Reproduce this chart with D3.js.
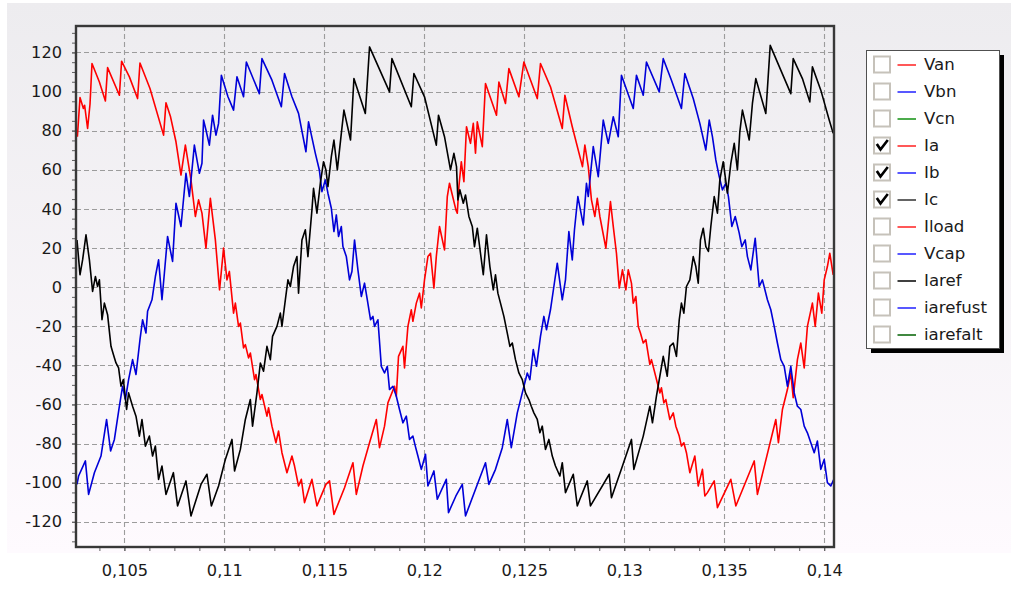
<!DOCTYPE html>
<html>
<head>
<meta charset="utf-8">
<script src="https://cdn.jsdelivr.net/npm/d3@7"></script>
<style>
  body { margin: 0; background: #fff; }
  svg { display: block; }
  text { font-family: "DejaVu Sans", Verdana, sans-serif; }
</style>
</head>
<body>
<svg id="chart" width="1011" height="603"></svg>
<script>
// phase currents, [time in ms, current in A]
var ia = [[102.65,76.9],[102.78,96.9],[102.95,91.3],[103.01,93.0],[103.16,81.1],[103.28,93.5],[103.38,114.3],[103.75,104.9],[104.05,95.2],[104.16,112.2],[104.75,98.1],[104.86,115.5],[105.25,107.5],[105.66,96.4],[105.78,114.6],[106.28,101.5],[106.96,77.7],[107.08,94.2],[107.30,87.4],[107.58,74.3],[107.83,57.3],[108.05,72.6],[108.33,54.8],[108.55,36.1],[108.71,44.6],[108.88,37.8],[109.08,19.9],[109.30,45.4],[109.55,24.1],[109.76,-1.4],[109.96,19.9],[110.13,3.7],[110.25,8.0],[110.46,-13.3],[110.55,-8.2],[110.71,-20.1],[110.80,-18.4],[110.96,-31.1],[111.05,-29.4],[111.21,-36.2],[111.30,-33.7],[111.51,-47.3],[111.58,-44.7],[111.80,-57.5],[111.88,-54.9],[112.13,-66.0],[112.21,-61.7],[112.38,-71.1],[112.58,-79.6],[112.71,-73.6],[112.88,-84.7],[113.13,-94.9],[113.38,-86.4],[113.51,-91.5],[113.71,-101.7],[113.85,-98.3],[114.01,-110.2],[114.38,-98.3],[114.63,-111.9],[115.08,-100.9],[115.26,-99.1],[115.48,-116.2],[116.01,-102.6],[116.43,-89.8],[116.60,-106.0],[116.93,-91.5],[117.26,-79.6],[117.60,-67.7],[117.76,-82.1],[118.01,-71.1],[118.18,-59.2],[118.51,-50.7],[118.60,-55.8],[118.71,-35.4],[118.93,-30.3],[119.01,-41.3],[119.18,-20.1],[119.35,-11.6],[119.43,-17.5],[119.60,-8.2],[119.76,-3.1],[119.85,-10.7],[120.01,3.7],[120.18,15.6],[120.31,17.3],[120.48,-0.5],[120.60,15.6],[120.76,31.0],[121.01,19.0],[121.15,46.3],[121.26,53.1],[121.38,48.0],[121.58,39.5],[121.65,37.8],[121.73,51.4],[121.85,64.1],[121.98,53.9],[122.11,82.0],[122.31,73.5],[122.45,83.7],[122.56,68.4],[122.65,84.5],[122.90,71.8],[123.06,104.1],[123.61,87.9],[123.73,104.9],[124.06,93.9],[124.23,111.7],[124.73,97.3],[124.98,115.1],[125.65,96.4],[125.81,114.3],[126.31,102.4],[126.90,81.1],[127.03,98.1],[127.40,82.0],[127.91,61.6],[128.03,72.6],[128.20,61.6],[128.36,44.6],[128.53,36.1],[128.65,45.4],[128.78,36.1],[129.08,19.9],[129.31,43.7],[129.45,31.0],[129.61,17.3],[129.75,-0.5],[129.91,8.8],[130.08,-1.4],[130.20,8.8],[130.36,2.0],[130.45,-8.2],[130.58,-4.8],[130.70,-20.1],[130.81,-23.5],[130.95,-28.6],[131.08,-26.9],[131.28,-39.6],[131.36,-37.1],[131.53,-43.9],[131.78,-54.1],[131.86,-51.5],[131.98,-59.2],[132.08,-57.5],[132.28,-67.7],[132.45,-64.3],[132.58,-71.1],[132.75,-76.2],[132.86,-81.3],[132.98,-79.6],[133.11,-84.7],[133.28,-94.9],[133.53,-86.4],[133.70,-101.7],[133.91,-93.2],[134.03,-106.8],[134.16,-105.1],[134.50,-99.1],[134.66,-112.8],[135.33,-98.3],[135.58,-111.9],[136.50,-88.9],[136.66,-106.0],[137.58,-67.7],[137.71,-79.6],[137.91,-62.6],[138.16,-52.4],[138.33,-43.9],[138.45,-56.6],[138.66,-37.1],[138.83,-28.6],[139.00,-41.3],[139.16,-20.1],[139.41,-8.2],[139.55,-20.1],[139.71,-3.1],[139.88,-13.3],[140.00,3.7],[140.16,10.5],[140.28,17.3],[140.45,6.3]];

var ib = [[102.63,-100.9],[102.71,-96.6],[103.05,-88.9],[103.21,-106.0],[103.50,-94.9],[103.83,-86.4],[104.11,-67.7],[104.31,-83.8],[104.50,-77.9],[104.75,-60.9],[104.91,-50.7],[105.05,-57.5],[105.21,-47.3],[105.41,-37.1],[105.58,-44.7],[105.78,-26.9],[105.91,-16.7],[106.08,-23.5],[106.16,-12.4],[106.38,-6.5],[106.55,5.4],[106.71,13.9],[106.88,-6.5],[107.00,7.1],[107.16,25.9],[107.41,13.1],[107.58,42.9],[107.83,31.0],[108.08,58.2],[108.25,46.3],[108.50,72.6],[108.75,58.2],[108.88,63.3],[108.96,85.4],[109.08,80.3],[109.25,72.6],[109.41,87.9],[109.58,77.7],[109.71,83.7],[109.85,108.3],[110.18,97.3],[110.46,90.5],[110.63,107.5],[110.96,97.3],[111.10,115.1],[111.75,98.9],[111.88,116.8],[112.38,105.8],[112.85,92.2],[113.01,109.2],[113.38,97.3],[113.71,88.8],[114.08,69.2],[114.21,84.5],[114.55,68.4],[114.75,59.9],[114.88,48.8],[115.05,54.8],[115.18,48.0],[115.35,40.3],[115.48,28.4],[115.60,36.9],[115.71,25.9],[115.85,31.0],[115.93,20.7],[116.10,15.6],[116.26,3.7],[116.38,8.0],[116.51,24.1],[116.68,8.8],[116.85,-4.8],[117.01,2.0],[117.15,-6.5],[117.31,-16.7],[117.43,-15.0],[117.51,-20.1],[117.68,-16.7],[117.85,-40.5],[118.01,-43.9],[118.15,-40.5],[118.26,-52.4],[118.43,-50.7],[118.60,-55.8],[118.76,-62.6],[118.93,-69.4],[119.10,-66.0],[119.26,-77.9],[119.43,-76.2],[119.55,-81.3],[119.68,-86.4],[119.85,-93.2],[120.06,-85.5],[120.18,-101.7],[120.48,-94.0],[120.65,-108.5],[121.10,-98.3],[121.21,-115.3],[121.58,-106.8],[121.90,-100.9],[122.06,-117.0],[123.06,-89.8],[123.23,-100.9],[123.56,-93.2],[123.90,-82.1],[124.15,-67.7],[124.35,-82.1],[124.65,-64.3],[124.90,-54.1],[125.15,-43.9],[125.28,-47.3],[125.45,-32.0],[125.61,-40.5],[125.81,-25.2],[125.98,-15.0],[126.11,-21.8],[126.31,-11.6],[126.48,0.3],[126.65,12.2],[126.90,-6.5],[127.06,3.7],[127.23,28.4],[127.40,13.9],[127.51,29.3],[127.68,46.3],[127.95,31.8],[128.11,53.1],[128.20,46.3],[128.45,71.8],[128.70,56.5],[128.95,85.4],[129.20,73.5],[129.45,87.1],[129.70,76.9],[129.86,108.3],[130.45,91.3],[130.61,108.3],[130.95,98.1],[131.11,115.1],[131.75,99.8],[131.95,116.8],[132.36,105.8],[132.86,91.3],[133.03,109.2],[133.45,96.4],[133.78,83.7],[134.08,70.1],[134.25,85.4],[134.41,76.9],[134.58,65.0],[134.75,56.5],[134.91,49.7],[135.08,53.1],[135.21,46.3],[135.38,31.0],[135.55,36.1],[135.75,27.6],[135.88,20.7],[136.05,24.1],[136.16,15.6],[136.33,8.8],[136.55,25.0],[136.75,0.3],[136.91,3.7],[137.16,-6.5],[137.33,-11.6],[137.50,-20.1],[137.66,-28.6],[137.83,-37.1],[138.00,-40.5],[138.16,-50.7],[138.33,-40.5],[138.50,-54.1],[138.66,-60.9],[138.83,-62.6],[139.00,-71.1],[139.16,-74.5],[139.33,-79.6],[139.50,-84.7],[139.66,-78.7],[139.83,-93.2],[140.00,-88.1],[140.16,-100.0],[140.33,-101.7],[140.48,-98.3]];

var ic = [[102.63,24.1],[102.78,6.3],[102.91,13.9],[103.08,26.7],[103.25,13.9],[103.41,-2.2],[103.55,5.4],[103.66,0.3],[103.75,3.7],[103.88,-16.7],[104.00,-8.2],[104.16,-14.1],[104.33,-30.3],[104.45,-34.5],[104.58,-38.8],[104.71,-41.3],[104.83,-50.7],[104.95,-47.3],[105.11,-62.6],[105.21,-54.1],[105.41,-60.9],[105.58,-66.0],[105.75,-76.2],[105.88,-67.7],[106.05,-81.3],[106.25,-76.2],[106.41,-86.4],[106.55,-81.3],[106.71,-98.3],[106.88,-91.5],[107.08,-106.0],[107.45,-94.9],[107.66,-111.9],[108.08,-99.1],[108.33,-117.0],[108.83,-100.9],[109.13,-95.7],[109.35,-111.9],[109.71,-101.7],[110.05,-88.1],[110.38,-77.9],[110.51,-94.0],[110.80,-83.0],[111.05,-67.7],[111.30,-57.5],[111.41,-71.1],[111.63,-54.1],[111.80,-38.8],[111.96,-43.0],[112.13,-30.3],[112.30,-37.1],[112.41,-25.2],[112.63,-20.1],[112.80,-13.3],[112.88,-20.1],[113.05,-6.5],[113.18,3.7],[113.30,0.3],[113.46,10.5],[113.63,15.6],[113.71,-3.1],[113.88,24.1],[114.05,29.3],[114.18,15.6],[114.38,39.5],[114.46,50.5],[114.63,37.8],[114.80,53.1],[114.96,64.1],[115.08,59.9],[115.18,51.4],[115.35,66.7],[115.48,75.2],[115.65,59.9],[115.85,78.6],[115.98,90.5],[116.31,75.2],[116.48,106.6],[117.05,88.8],[117.26,122.8],[118.26,99.8],[118.38,116.8],[119.35,92.2],[119.48,109.2],[120.01,97.3],[120.60,72.6],[120.71,87.9],[121.01,76.9],[121.31,59.9],[121.48,68.4],[121.61,61.6],[121.68,44.6],[121.78,49.7],[121.95,42.9],[122.06,47.1],[122.23,36.1],[122.40,31.0],[122.51,20.7],[122.65,30.1],[122.81,17.3],[122.95,6.3],[123.11,26.7],[123.28,10.5],[123.45,-1.4],[123.56,6.3],[123.68,-3.1],[123.81,-8.2],[123.98,-15.0],[124.15,-23.5],[124.28,-30.3],[124.40,-28.6],[124.56,-37.1],[124.73,-43.9],[124.90,-47.3],[125.06,-54.1],[125.23,-57.5],[125.35,-60.9],[125.48,-64.3],[125.65,-67.7],[125.78,-74.5],[125.90,-71.1],[126.06,-83.0],[126.23,-77.9],[126.40,-86.4],[126.56,-91.5],[126.78,-96.6],[126.90,-89.8],[127.06,-105.1],[127.45,-95.7],[127.65,-111.9],[127.78,-108.5],[128.15,-99.1],[128.31,-111.9],[129.25,-95.7],[129.36,-107.7],[129.91,-91.5],[130.36,-77.9],[130.48,-93.2],[130.95,-76.2],[131.28,-60.9],[131.41,-69.4],[131.61,-55.8],[131.95,-35.4],[132.15,-45.6],[132.28,-30.3],[132.45,-28.6],[132.61,-35.4],[132.75,-16.7],[132.86,-8.2],[132.98,-13.3],[133.11,0.3],[133.28,3.7],[133.45,15.6],[133.58,10.5],[133.70,2.0],[133.81,24.1],[133.95,30.1],[134.08,20.7],[134.21,18.2],[134.33,31.0],[134.50,46.3],[134.66,37.8],[134.78,54.8],[134.95,64.1],[135.16,48.0],[135.33,63.3],[135.50,73.5],[135.66,59.9],[135.78,79.4],[135.91,90.5],[136.25,75.2],[136.41,93.9],[136.58,106.6],[137.08,88.8],[137.30,123.6],[138.33,98.9],[138.45,116.8],[138.91,106.6],[139.28,94.7],[139.41,112.6],[139.83,100.7],[140.25,85.4],[140.45,78.6]];

// legend entries (only Ia, Ib, Ic are ticked and plotted)
var legendNames   = ["Van", "Vbn", "Vcn", "Ia", "Ib", "Ic", "Iload", "Vcap", "Iaref", "iarefust", "iarefalt"];
var legendColors  = ["#ff2020", "#2020ff", "#109010", "#ff2020", "#2020ff", "#303030", "#ff2020", "#2020ff", "#000000", "#2020ff", "#006000"];
var legendChecked = [false, false, false, true, true, true, false, false, false, false, false];

// axes
var xTicks = [0.105, 0.11, 0.115, 0.12, 0.125, 0.13, 0.135, 0.14];
var yTicks = [-120, -100, -80, -60, -40, -20, 0, 20, 40, 60, 80, 100, 120];
var xDomain = [0.10258, 0.14049];
var yDomain = [-132.9, 133.5];

var svg = d3.select("#chart");
var pLeft = 76, pRight = 834, pTop = 26, pBottom = 547;

var x = d3.scaleLinear().domain(xDomain).range([pLeft, pRight]);
var y = d3.scaleLinear().domain(yDomain).range([pBottom, pTop]);

// minor ticks: x every 0.00125 s, y every 5 A
var xMinor = d3.range(0.10375, 0.1405, 0.00125);
var yMinor = d3.range(-130, 131, 5);

// backgrounds
var defs = svg.append("defs");
var grad = defs.append("linearGradient").attr("id", "bg")
    .attr("x1", 0).attr("y1", 0).attr("x2", 0).attr("y2", 1);
grad.append("stop").attr("offset", "0%").attr("stop-color", "#edecef");
grad.append("stop").attr("offset", "100%").attr("stop-color", "#fefafe");

defs.append("clipPath").attr("id", "plotclip")
  .append("rect").attr("x", pLeft).attr("y", pTop)
  .attr("width", pRight - pLeft).attr("height", pBottom - pTop);

svg.append("rect").attr("x", 7).attr("y", 3)
    .attr("width", 1004).attr("height", 550)
    .attr("fill", "url(#bg)");

// grid
var grid = svg.append("g").attr("stroke", "#9c9c9c")
    .attr("stroke-width", 1.1).attr("stroke-dasharray", "5,3");
grid.selectAll(".gx").data(xTicks).enter().append("line")
    .attr("x1", function(d) { return Math.round(x(d)) + 0.5; })
    .attr("x2", function(d) { return Math.round(x(d)) + 0.5; })
    .attr("y1", pTop).attr("y2", pBottom);
grid.selectAll(".gy").data(yTicks).enter().append("line")
    .attr("y1", function(d) { return Math.round(y(d)) + 0.5; })
    .attr("y2", function(d) { return Math.round(y(d)) + 0.5; })
    .attr("x1", pLeft).attr("x2", pRight);

// series
var line = d3.line()
    .x(function(d) { return x(d[0] / 1000); })
    .y(function(d) { return y(d[1]); });

var plotted = [
  { data: ia, color: "#ff0000" },
  { data: ib, color: "#0000d8" },
  { data: ic, color: "#000000" }
];

svg.append("g").attr("clip-path", "url(#plotclip)")
  .selectAll("path").data(plotted).enter().append("path")
    .attr("d", function(d) { return line(d.data); })
    .attr("fill", "none")
    .attr("stroke", function(d) { return d.color; })
    .attr("stroke-width", 1.6)
    .attr("stroke-linejoin", "round");

// axes
function commaFmt(d) { return String(+d.toFixed(3)).replace(".", ","); }

var xMinorAxis = svg.append("g").attr("transform", "translate(0," + pBottom + ")")
    .call(d3.axisBottom(x).tickValues(xMinor).tickSize(4).tickFormat(""));
var xAxis = svg.append("g").attr("transform", "translate(0," + pBottom + ")")
    .call(d3.axisBottom(x).tickValues(xTicks).tickSize(4).tickPadding(13).tickFormat(commaFmt));
var yMinorAxis = svg.append("g").attr("transform", "translate(" + pLeft + ",0)")
    .call(d3.axisLeft(y).tickValues(yMinor).tickSize(4).tickFormat(""));
var yAxis = svg.append("g").attr("transform", "translate(" + pLeft + ",0)")
    .call(d3.axisLeft(y).tickValues(yTicks).tickSize(4).tickPadding(10).tickFormat(function(d) { return String(d); }));

[xMinorAxis, xAxis, yMinorAxis, yAxis].forEach(function(a) {
  a.select(".domain").remove();
  a.selectAll(".tick line").attr("stroke", "#606060");
  a.selectAll("text").attr("font-size", "16.2px").attr("fill", "#1a1a1a")
    .attr("font-family", "'DejaVu Sans', Verdana, sans-serif");
});

// frame
svg.append("rect").attr("x", pLeft).attr("y", pTop)
    .attr("width", pRight - pLeft).attr("height", pBottom - pTop)
    .attr("fill", "none").attr("stroke", "#383838").attr("stroke-width", 2.4);

// legend
var lgX = 866, lgY = 50, lgW = 133, lgH = 298, rowH = 27, firstRow = 64.5;
svg.append("rect").attr("x", lgX + 5).attr("y", lgY + 5)
    .attr("width", lgW).attr("height", lgH).attr("fill", "#000");
svg.append("rect").attr("x", lgX + 0.5).attr("y", lgY + 0.5)
    .attr("width", lgW).attr("height", lgH)
    .attr("fill", "#fff").attr("stroke", "#505050").attr("stroke-width", 1);

var rows = svg.append("g").selectAll("g").data(legendNames).enter().append("g")
    .attr("transform", function(d, i) { return "translate(0," + (firstRow + i * rowH) + ")"; });

rows.append("rect").attr("x", 874).attr("y", -8).attr("width", 16).attr("height", 16)
    .attr("fill", "#fff").attr("stroke", "#c6c2ba").attr("stroke-width", 2);

rows.filter(function(d, i) { return legendChecked[i]; })
  .append("path").attr("d", "M877.5,-0.5 L880.5,4 L887,-4.5")
    .attr("fill", "none").attr("stroke", "#000").attr("stroke-width", 2.6)
    .attr("stroke-linecap", "square");

rows.append("line").attr("x1", 897.5).attr("x2", 916).attr("y1", 0.5).attr("y2", 0.5)
    .attr("stroke", function(d, i) { return legendColors[i]; })
    .attr("stroke-width", 1.5);

rows.append("text").attr("x", 924).attr("y", 0).attr("dy", "0.36em")
    .attr("font-size", "16.6px").attr("fill", "#1a1a1a")
    .text(function(d) { return d; });
</script>
</body>
</html>
